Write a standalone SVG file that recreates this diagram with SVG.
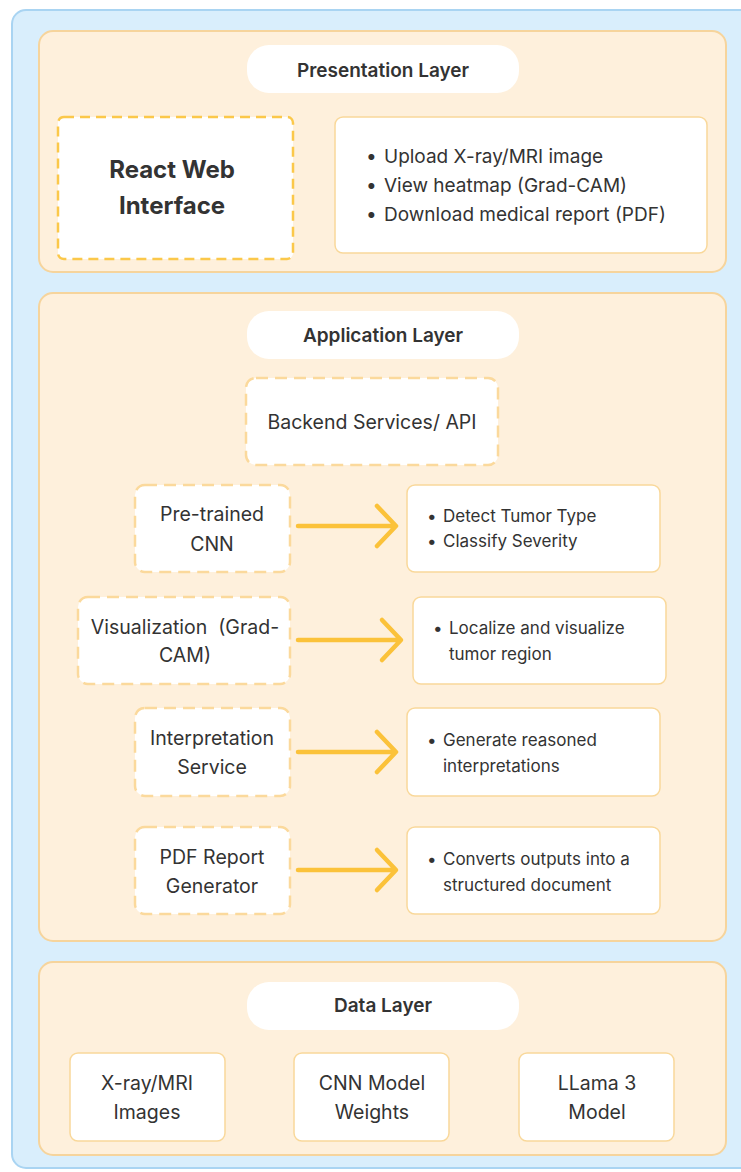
<svg xmlns="http://www.w3.org/2000/svg" width="741" height="1172" viewBox="0 0 741 1172">
<defs>
<style>
.bg{fill:#d9eefc;stroke:#a9d4f2;stroke-width:2}
.panel{fill:#fef0dc;stroke:#f6d49c;stroke-width:2}
.pill{fill:#ffffff;stroke:none}
.box{fill:#ffffff;stroke:#f9d89a;stroke-width:1.5}
.dash{fill:#ffffff;stroke:#fbd99c;stroke-width:2.5;stroke-dasharray:12 7}
.dashs{fill:#ffffff;stroke:#fbc84a;stroke-width:2.5;stroke-dasharray:10 6}
text{font-family:Inter,"Liberation Sans",sans-serif;fill:#333333}
.title{font-size:19px;font-weight:600;text-anchor:middle}
.big{font-size:24px;font-weight:700;text-anchor:middle}
.node{font-size:19.5px;text-anchor:middle}
.b1{font-size:19px}
.b2{font-size:17px}
.arr{stroke:#fbc23a;stroke-width:4.5;fill:none;stroke-linecap:round;stroke-linejoin:round}
</style>
</defs>
<rect class="bg" x="12" y="10" width="760" height="1158" rx="14"/>

<g id="presentation-layer">
<rect class="panel" x="39" y="31" width="687" height="241" rx="14"/>
<rect class="pill" x="247" y="45" width="272" height="48" rx="22"/>
<text class="title" x="383" y="77">Presentation Layer</text>
</g>
<g id="react-web-interface">
<rect class="dashs" x="58" y="117" width="235" height="142" rx="6"/>
<text class="big" x="172" y="178">React Web</text>
<text class="big" x="172" y="214">Interface</text>
</g>
<g id="presentation-features">
<rect class="box" x="335" y="117" width="372" height="136" rx="8"/>
<text class="b1" x="366" y="163">• <tspan x="384">Upload X-ray/MRI image</tspan></text>
<text class="b1" x="366" y="192">• <tspan x="384">View heatmap (Grad-CAM)</tspan></text>
<text class="b1" x="366" y="221">• <tspan x="384">Download medical report (PDF)</tspan></text>
</g>

<g id="application-layer">
<rect class="panel" x="39" y="293" width="687" height="648" rx="14"/>
<rect class="pill" x="247" y="311" width="272" height="48" rx="22"/>
<text class="title" x="383" y="342">Application Layer</text>
</g>
<g id="backend-services">
<rect class="dash" x="246" y="378" width="252" height="87" rx="10"/>
<text class="node" x="372" y="429">Backend Services/ API</text>
</g>
<g id="pretrained-cnn">
<rect class="dash" x="135" y="485" width="155" height="87" rx="10"/>
<text class="node" x="212" y="521">Pre-trained</text>
<text class="node" x="212" y="551">CNN</text>
</g>
<g id="cnn-outputs">
<rect class="box" x="407" y="485" width="253" height="87" rx="8"/>
<text class="b2" x="427" y="522">• <tspan x="443">Detect Tumor Type</tspan></text>
<text class="b2" x="427" y="547">• <tspan x="443">Classify Severity</tspan></text>
</g>
<g id="visualization">
<rect class="dash" x="78" y="597" width="212" height="87" rx="10"/>
<text class="node" x="185" y="634" xml:space="preserve">Visualization  (Grad-</text>
<text class="node" x="185" y="662">CAM)</text>
</g>
<g id="visualization-outputs">
<rect class="box" x="413" y="597" width="253" height="87" rx="8"/>
<text class="b2" x="433" y="634">• <tspan x="449">Localize and visualize</tspan></text>
<text class="b2" x="449" y="660">tumor region</text>
</g>
<g id="interpretation-service">
<rect class="dash" x="135" y="708" width="155" height="88" rx="10"/>
<text class="node" x="212" y="745">Interpretation</text>
<text class="node" x="212" y="774">Service</text>
</g>
<g id="interpretation-outputs">
<rect class="box" x="407" y="708" width="253" height="88" rx="8"/>
<text class="b2" x="427" y="746">• <tspan x="443">Generate reasoned</tspan></text>
<text class="b2" x="443" y="772">interpretations</text>
</g>
<g id="pdf-report-generator">
<rect class="dash" x="135" y="827" width="155" height="87" rx="10"/>
<text class="node" x="212" y="864">PDF Report</text>
<text class="node" x="212" y="893">Generator</text>
</g>
<g id="pdf-outputs">
<rect class="box" x="407" y="827" width="253" height="87" rx="8"/>
<text class="b2" x="427" y="865">• <tspan x="443">Converts outputs into a</tspan></text>
<text class="b2" x="443" y="891">structured document</text>
</g>

<g id="data-layer">
<rect class="panel" x="39" y="962" width="687" height="193" rx="14"/>
<rect class="pill" x="247" y="982" width="272" height="48" rx="22"/>
<text class="title" x="383" y="1012">Data Layer</text>
</g>
<g id="xray-images">
<rect class="box" x="70" y="1053" width="155" height="88" rx="8"/>
<text class="node" x="147" y="1090">X-ray/MRI</text>
<text class="node" x="147" y="1119">Images</text>
</g>
<g id="cnn-weights">
<rect class="box" x="294" y="1053" width="155" height="88" rx="8"/>
<text class="node" x="372" y="1090">CNN Model</text>
<text class="node" x="372" y="1119">Weights</text>
</g>
<g id="llama-model">
<rect class="box" x="519" y="1053" width="155" height="88" rx="8"/>
<text class="node" x="597" y="1090">LLama 3</text>
<text class="node" x="597" y="1119">Model</text>
</g>

<g id="connectors">
<path class="arr" d="M298 526 H395 M377 506 L396 526 L377 546"/>
<path class="arr" d="M298 640 H400 M382 620 L401 640 L382 660"/>
<path class="arr" d="M298 752 H395 M377 732 L396 752 L377 772"/>
<path class="arr" d="M298 870 H395 M377 850 L396 870 L377 890"/>
</g>
</svg>
